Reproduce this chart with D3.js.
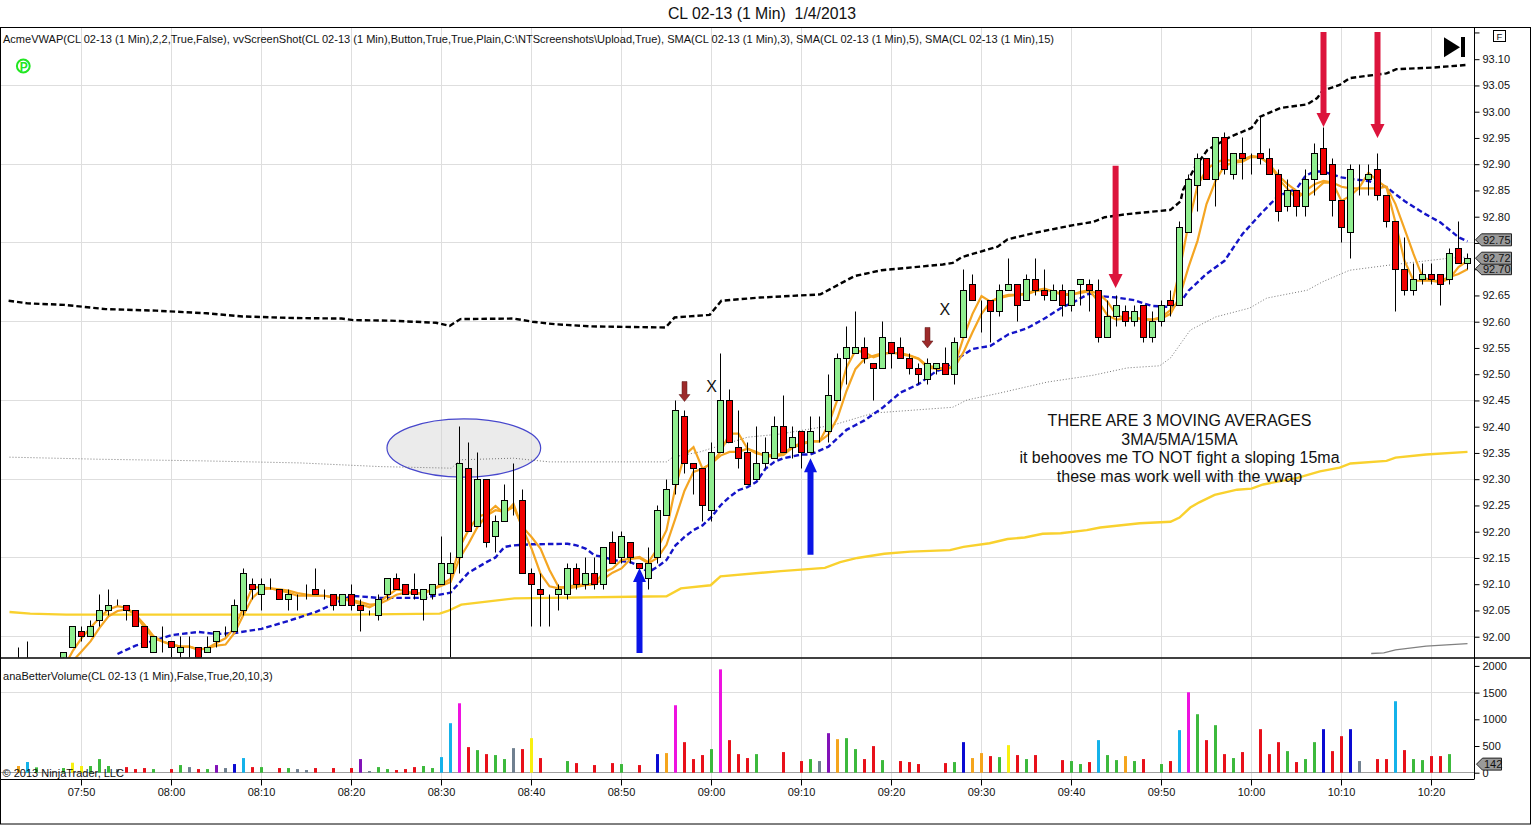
<!DOCTYPE html>
<html>
<head>
<meta charset="utf-8">
<title>CL 02-13 (1 Min) 1/4/2013</title>
<script src="https://cdn.jsdelivr.net/npm/d3@7"></script>
<style>
  html, body { margin: 0; padding: 0; background: #fff; overflow: hidden; }
  svg { display: block; font-family: "Liberation Sans", Arial, sans-serif; }
  text { fill: #111; }
</style>
</head>
<body>
<div id="chart"></div>
<script>
// minutes are counted from 07:50, one bar per minute starting at 07:43
var firstBarMinute = -7;

var barOpen = [
  91.93,91.94,91.93,91.94,91.93,91.94,91.98,92.01,92.00,92.03,
  92.05,92.06,92.06,92.05,92.02,91.97,91.99,91.99,91.97,91.98,
  91.98,91.97,91.99,92.00,92.01,92.05,92.10,92.08,92.09,92.09,
  92.07,92.07,92.08,92.09,92.08,92.08,92.06,92.08,92.06,92.05,
  92.04,92.08,92.11,92.10,92.09,92.07,92.08,92.10,92.12,92.15,
  92.32,92.21,92.30,92.19,92.22,92.27,92.26,92.12,92.09,92.08,
  92.08,92.08,92.13,92.10,92.12,92.10,92.18,92.15,92.18,92.14,
  92.11,92.15,92.23,92.29,92.42,92.33,92.32,92.24,92.35,92.45,
  92.36,92.35,92.30,92.33,92.34,92.40,92.36,92.39,92.35,92.39,
  92.39,92.45,92.53,92.54,92.55,92.52,92.51,92.56,92.55,92.53,
  92.51,92.49,92.51,92.52,92.50,92.57,92.67,92.64,92.64,92.62,
  92.66,92.67,92.64,92.68,92.66,92.64,92.66,92.63,92.67,92.67,
  92.66,92.57,92.61,92.62,92.60,92.63,92.57,92.60,92.64,92.63,
  92.77,92.86,92.91,92.87,92.95,92.88,92.92,92.92,92.92,92.91,
  92.88,92.82,92.85,92.82,92.87,92.93,92.90,92.83,92.77,92.89,
  92.87,92.89,92.84,92.79,92.70,92.66,92.68,92.69,92.69,92.68,
  92.74,92.71
];
var barHigh = [
  91.98,91.99,91.95,91.95,91.95,91.97,92.02,92.02,92.03,92.08,
  92.09,92.07,92.06,92.05,92.02,92.00,92.02,91.99,92.00,92.00,
  91.98,92.00,92.01,92.02,92.07,92.13,92.11,92.11,92.11,92.09,
  92.09,92.08,92.10,92.13,92.09,92.08,92.08,92.10,92.07,92.05,
  92.08,92.11,92.12,92.10,92.12,92.09,92.10,92.19,92.16,92.40,
  92.37,92.35,92.30,92.23,92.29,92.33,92.28,92.13,92.12,92.08,
  92.10,92.14,92.14,92.15,92.15,92.17,92.20,92.20,92.18,92.14,
  92.17,92.25,92.30,92.45,92.43,92.33,92.32,92.37,92.54,92.47,
  92.43,92.37,92.40,92.38,92.42,92.46,92.40,92.39,92.42,92.42,
  92.50,92.54,92.59,92.62,92.57,92.52,92.60,92.56,92.57,92.54,
  92.52,92.53,92.52,92.55,92.57,92.70,92.69,92.64,92.64,92.67,
  92.72,92.67,92.69,92.72,92.70,92.67,92.67,92.66,92.68,92.68,
  92.68,92.64,92.65,92.63,92.63,92.63,92.62,92.64,92.66,92.79,
  92.88,92.92,92.91,92.95,92.96,92.92,92.95,92.92,92.99,92.93,
  92.89,92.87,92.85,92.89,92.94,92.97,92.91,92.83,92.90,92.90,
  92.90,92.92,92.84,92.79,92.76,92.71,92.71,92.71,92.69,92.74,
  92.79,92.73
];
var barLow = [
  91.92,91.93,91.92,91.93,91.92,91.93,91.98,91.99,92.00,92.02,
  92.04,92.06,92.03,92.02,91.98,91.97,91.97,91.96,91.96,91.96,
  91.96,91.97,91.98,92.00,92.01,92.04,92.07,92.05,92.09,92.07,
  92.05,92.05,92.07,92.08,92.07,92.05,92.06,92.05,92.01,92.04,
  92.03,92.07,92.09,92.08,92.07,92.03,92.07,92.10,91.96,92.12,
  92.20,92.21,92.17,92.16,92.22,92.23,92.12,92.02,92.02,92.02,
  92.05,92.07,92.09,92.09,92.09,92.09,92.14,92.14,92.14,92.13,
  92.09,92.14,92.23,92.27,92.31,92.27,92.22,92.22,92.35,92.37,
  92.32,92.29,92.30,92.32,92.34,92.35,92.34,92.32,92.35,92.37,
  92.37,92.45,92.48,92.54,92.52,92.45,92.51,92.51,92.53,92.50,
  92.48,92.48,92.50,92.50,92.48,92.57,92.64,92.58,92.56,92.61,
  92.66,92.60,92.64,92.65,92.64,92.64,92.61,92.62,92.63,92.62,
  92.56,92.57,92.59,92.59,92.59,92.56,92.56,92.59,92.61,92.63,
  92.77,92.81,92.87,92.82,92.88,92.87,92.87,92.88,92.90,92.88,
  92.79,92.81,92.80,92.80,92.84,92.88,92.80,92.75,92.72,92.84,
  92.84,92.83,92.78,92.62,92.65,92.65,92.67,92.67,92.63,92.67,
  92.71,92.70
];
var barClose = [
  91.94,91.95,91.94,91.93,91.94,91.97,92.02,92.00,92.02,92.05,
  92.06,92.06,92.05,92.02,91.98,92.00,91.99,91.98,91.98,91.98,
  91.96,91.98,92.01,92.00,92.06,92.12,92.09,92.10,92.09,92.07,
  92.08,92.07,92.08,92.08,92.08,92.06,92.08,92.06,92.05,92.05,
  92.07,92.11,92.09,92.08,92.08,92.09,92.10,92.14,92.14,92.33,
  92.20,92.30,92.18,92.22,92.26,92.27,92.12,92.10,92.08,92.08,
  92.09,92.13,92.10,92.12,92.10,92.17,92.14,92.19,92.15,92.13,
  92.14,92.24,92.28,92.43,92.33,92.32,92.25,92.35,92.45,92.37,
  92.34,92.29,92.33,92.35,92.40,92.35,92.38,92.35,92.39,92.39,
  92.46,92.53,92.55,92.55,92.53,92.51,92.57,92.54,92.53,92.51,
  92.50,92.52,92.52,92.50,92.56,92.66,92.64,92.64,92.62,92.66,
  92.67,92.63,92.68,92.66,92.65,92.66,92.63,92.66,92.68,92.66,
  92.57,92.61,92.63,92.60,92.62,92.57,92.60,92.63,92.63,92.78,
  92.87,92.91,92.87,92.95,92.89,92.92,92.91,92.92,92.91,92.88,
  92.81,92.85,92.82,92.87,92.92,92.88,92.83,92.78,92.89,92.89,
  92.88,92.84,92.79,92.70,92.66,92.68,92.69,92.68,92.67,92.73,
  92.71,92.72
];

// same bars as above, null where no volume bar is drawn
var volumeValues = [
  125,200,100,null,null,87,187,125,125,255,
  125,68,105,68,87,68,null,68,143,105,
  68,68,143,87,162,274,105,105,null,87,
  87,68,50,87,null,87,null,87,255,31,
  105,68,50,68,105,125,87,292,927,1300,
  479,423,348,330,255,460,442,647,274,null,
  null,218,180,null,143,null,180,162,null,143,
  null,348,367,1263,572,255,330,442,1935,610,
  348,274,348,null,null,386,null,218,255,218,
  740,628,647,442,255,498,236,null,218,199,
  162,null,null,180,199,572,274,367,311,292,
  516,330,255,330,null,null,236,218,162,199,
  610,330,236,311,218,255,null,162,218,797,
  1506,1095,610,890,348,274,386,null,815,348,
  572,404,199,255,572,815,404,684,815,218,
  null,255,255,1338,423,255,236,311,311,348,
  null,null
];
// r down, g up, c climax up, m climax + churn, b low-volume churn, o orange, y churn, p purple, s quiet
var volumeTypes = [
  'o','c','g','','','g','y','y','g','g',
  'g','s','r','r','r','g','','r','g','s',
  'r','g','p','s','b','c','r','g','','r',
  'g','s','s','r','','r','','r','p','s',
  'g','g','r','r','r','g','g','c','c','m',
  'r','g','r','g','g','s','r','y','r','',
  '','g','r','','r','','r','g','','r',
  '','b','o','m','r','r','r','g','m','r',
  'r','r','g','','','r','','r','g','s',
  'p','o','g','g','r','r','g','','r','r',
  'r','','','r','g','b','o','o','r','g',
  'y','r','g','r','','','r','g','g','r',
  'c','g','g','o','g','r','','g','r','c',
  'm','g','r','g','r','g','r','','r','r',
  'r','g','r','g','g','b','r','r','b','s',
  '','r','r','c','r','g','g','r','r','g',
  '',''
];

// SMA(3) and SMA(5), one value per minute from 07:48
var smaFirstMinute = -2;
var sma3Values = [
  91.94,91.972,91.997,92.017,92.036,92.052,92.058,92.055,92.042,92.017,
  91.997,91.991,91.985,91.981,91.981,91.975,91.978,91.988,91.997,92.017,
  92.055,92.094,92.094,92.092,92.088,92.084,92.078,92.078,92.078,92.078,
  92.074,92.071,92.068,92.062,92.056,92.065,92.078,92.09,92.087,92.082,
  92.082,92.09,92.10,92.11,92.17,92.203,92.228,92.234,92.249,92.234,
  92.253,92.206,92.168,92.12,92.096,92.092,92.096,92.098,92.10,92.10,
  92.123,92.13,92.146,92.149,92.152,92.142,92.168,92.203,92.285,92.346,
  92.361,92.32,92.33,92.352,92.387,92.387,92.358,92.349,92.346,92.346,
  92.349,92.362,92.369,92.372,92.372,92.404,92.452,92.513,92.545,92.542,
  92.532,92.538,92.542,92.538,92.535,92.529,92.513,92.51,92.51,92.516,
  92.57,92.615,92.649,92.638,92.647,92.651,92.651,92.654,92.66,92.663,
  92.657,92.651,92.651,92.657,92.66,92.638,92.612,92.604,92.606,92.608,
  92.604,92.604,92.609,92.622,92.697,92.786,92.859,92.89,92.903,92.909,
  92.906,92.908,92.916,92.913,92.90,92.872,92.853,92.834,92.849,92.862,
  92.868,92.865,92.83,92.84,92.856,92.884,92.868,92.856,92.789,92.716,
  92.678,92.678,92.678,92.675,92.682,92.704,92.716
];
var sma5Values = [
  91.93,91.953,91.972,91.991,92.017,92.039,92.049,92.052,92.042,92.023,
  92.001,91.991,91.985,91.981,91.981,91.976,91.978,91.983,91.985,92.007,
  92.042,92.074,92.09,92.092,92.09,92.088,92.083,92.08,92.078,92.078,
  92.076,92.073,92.07,92.066,92.061,92.062,92.07,92.08,92.084,92.082,
  92.084,92.09,92.097,92.104,92.149,92.177,92.209,92.231,92.241,92.238,
  92.247,92.209,92.19,92.168,92.127,92.095,92.092,92.095,92.098,92.10,
  92.11,92.122,92.13,92.148,92.15,92.14,92.15,92.175,92.226,92.278,
  92.314,92.32,92.33,92.345,92.352,92.352,92.358,92.352,92.343,92.344,
  92.346,92.36,92.366,92.372,92.372,92.385,92.417,92.468,92.51,92.529,
  92.535,92.54,92.54,92.54,92.536,92.53,92.516,92.513,92.51,92.513,
  92.542,92.58,92.615,92.638,92.645,92.649,92.651,92.652,92.658,92.661,
  92.658,92.653,92.652,92.655,92.658,92.654,92.638,92.612,92.607,92.607,
  92.605,92.604,92.606,92.615,92.647,92.704,92.754,92.824,92.868,92.897,
  92.903,92.905,92.914,92.913,92.90,92.878,92.862,92.849,92.837,92.849,
  92.865,92.865,92.857,92.854,92.854,92.854,92.854,92.857,92.824,92.777,
  92.729,92.685,92.678,92.678,92.685,92.691,92.70
];

// SMA(15), dashed blue
var sma15Minutes = [4,6,8,10,13,15,17,20,23,26,28,30,33,36,38,41,43,45,46,47,48,50,54,55,56,57,58,59,61,62,63,64,65,66,67,68,69,70,71,72,73,74,75,76,77,78,80,81,83,85,87,89,91,93,95,96,97,99,101,103,105,107,109,110,112,113,115,117,118,119,121,122,123,124,125,127,129,131,133,135,136,137,138,139,140,141,143,144,145,147,149,151,153,154];
var sma15Values = [91.967,91.983,91.992,92.003,92.009,92.005,92.007,92.015,92.03,92.047,92.062,92.078,92.074,92.074,92.074,92.084,92.122,92.142,92.151,92.171,92.174,92.176,92.177,92.174,92.168,92.155,92.152,92.146,92.142,92.134,92.123,92.133,92.146,92.174,92.19,92.203,92.212,92.228,92.25,92.266,92.279,92.285,92.295,92.32,92.333,92.34,92.347,92.347,92.362,92.394,92.412,92.436,92.465,92.481,92.506,92.512,92.526,92.548,92.554,92.576,92.587,92.606,92.628,92.635,92.654,92.649,92.646,92.641,92.635,92.63,92.628,92.634,92.659,92.675,92.691,92.716,92.767,92.805,92.84,92.853,92.878,92.886,92.886,92.88,92.875,92.872,92.868,92.863,92.856,92.83,92.808,92.789,92.761,92.753];

// AcmeVWAP upper band, dashed black
var vwapUpperMinutes = [-8.1,-6,-1.9,2.7,8.3,13.9,17.9,23.6,28.9,30.2,34.3,39.4,40.9,42.1,48,50.1,52.7,56.7,64.9,65.9,69.8,71.1,75.4,82.1,83.5,85.9,88.9,95.7,96.8,97.8,101.8,102.9,106.1,110.2,112.4,113.7,116.2,121,122.1,122.4,123.7,125.1,127.6,130,130.9,133.2,136.2,137.3,137.9,139.8,140.9,145,146.1,150.2,153.8];
var vwapUpperValues = [92.64,92.635,92.632,92.624,92.621,92.616,92.61,92.607,92.606,92.603,92.602,92.598,92.592,92.605,92.606,92.60,92.595,92.591,92.589,92.608,92.613,92.64,92.646,92.652,92.665,92.687,92.698,92.709,92.712,92.723,92.743,92.757,92.77,92.784,92.79,92.799,92.805,92.813,92.829,92.851,92.894,92.927,92.952,92.969,92.99,93.007,93.014,93.026,93.04,93.051,93.064,93.073,93.081,93.084,93.089];

// AcmeVWAP centre line, thin dotted grey
var vwapMinutes = [-8,2,13.2,24.3,33.2,41.1,42.1,48,52,65,65.7,68.7,74,77.6,83.5,88,96.8,98.4,102,107.3,112.4,116.2,119.8,121,123.2,126,129.8,131.7,136.2,137.9,140.9,145.4,152,153.9];
var vwapValues = [92.342,92.338,92.335,92.331,92.324,92.321,92.337,92.34,92.333,92.333,92.342,92.352,92.38,92.386,92.403,92.426,92.437,92.451,92.464,92.485,92.498,92.512,92.516,92.531,92.584,92.609,92.626,92.645,92.66,92.676,92.698,92.708,92.721,92.723];

// AcmeVWAP lower band, yellow
var vwapLowerMinutes = [-8,-5.7,-1.7,29.8,39.8,40.7,42.2,48.1,65,66.6,69.9,71,77.7,82.6,84.3,86.2,89.2,92.1,96.5,98,100.9,102.9,104.8,106.8,108.8,111.7,113.2,117.6,121,122,123.2,124.2,125.9,128.4,130,131.3,135.2,137.6,139.8,141,145,146,149.4,154];
var vwapLowerValues = [92.047,92.044,92.042,92.042,92.044,92.049,92.061,92.073,92.077,92.092,92.098,92.115,92.125,92.131,92.142,92.15,92.158,92.162,92.165,92.171,92.178,92.186,92.189,92.196,92.197,92.203,92.208,92.216,92.219,92.227,92.246,92.256,92.27,92.28,92.282,92.29,92.303,92.315,92.322,92.33,92.335,92.341,92.347,92.352];

// second lower band, only its tail is on screen
var vwapLower2Minutes = [143.3,144.7,146,149.4,154];
var vwapLower2Values = [91.968,91.969,91.975,91.982,91.987];

var timeTickMinutes = [0,10,20,30,40,50,60,70,80,90,100,110,120,130,140,150];
var timeTickLabels = ['07:50','08:00','08:10','08:20','08:30','08:40','08:50','09:00','09:10','09:20','09:30','09:40','09:50','10:00','10:10','10:20'];
var priceTicks = [92.00,92.05,92.10,92.15,92.20,92.25,92.30,92.35,92.40,92.45,92.50,92.55,92.60,92.65,92.70,92.75,92.80,92.85,92.90,92.95,93.00,93.05,93.10];
var priceGrid = [92.00,92.15,92.30,92.45,92.60,92.75,92.90,93.05];
var volumeTicks = [0,500,1000,1500,2000];
var volumeGrid = [0,1500];

var priceBadges = [92.70, 92.72, 92.755];
var priceBadgeLabels = ['92.70','92.72','92.75'];
var volumeBadge = 142;

// hand-drawn annotations, in minutes and prices
var arrowMinutes = [114.9,138,144,62,81,67,94];
var arrowTail = [92.897,93.152,93.152,91.969,92.156,92.486,92.589];
var arrowTip = [92.664,92.971,92.95,92.131,92.34,92.448,92.55];
var arrowKinds = ['red','red','red','blue','blue','brown','brown'];
var markMinutes = [70,95.94];
var markPrices = [92.477,92.624];
var noteMinute = 122;
var notePrices = [92.412,92.376,92.342,92.305];
var noteLines = ['THERE ARE 3 MOVING AVERAGES','3MA/5MA/15MA','it behooves me TO NOT fight a sloping 15ma','these mas work well with the vwap'];

var titleText = 'CL 02-13 (1 Min)  1/4/2013';
var priceLegend = 'AcmeVWAP(CL 02-13 (1 Min),2,2,True,False), vvScreenShot(CL 02-13 (1 Min),Button,True,True,Plain,C:\\NTScreenshots\\Upload,True), SMA(CL 02-13 (1 Min),3), SMA(CL 02-13 (1 Min),5), SMA(CL 02-13 (1 Min),15)';
var volumeLegend = 'anaBetterVolume(CL 02-13 (1 Min),False,True,20,10,3)';
var copyrightText = '\u00A9 2013 NinjaTrader, LLC';

var volumeColors = { r: '#e8101a', g: '#3cb93c', c: '#14b2ea', m: '#ee12e0', b: '#0a0ad2', o: '#f5a51c', y: '#f8f010', p: '#8212b8', s: '#708090' };
var arrowStyles = {
  red: { color: '#dc143c', shaft: 6, headW: 14, headH: 14 },
  blue: { color: '#0a14e6', shaft: 6, headW: 13, headH: 14 },
  brown: { color: '#9c2a2a', shaft: 5, headW: 11, headH: 7 }
};

var W = 1531, H = 825;
var panelRight = 1474, panelTop = 27.5, priceBottom = 657.5, volumeTop = 658.5, volumeBottom = 779.5;

var svg = d3.select('#chart').append('svg').attr('width', W).attr('height', H);

var x = d3.scaleLinear().domain([0, 150]).range([81.5, 1431.5]);
var y = d3.scaleLinear().domain([92, 93.1]).range([636.7, 59.2]);
var yVol = d3.scaleLinear().domain([0, 2000]).range([772.7, 665.9]);

function crisp(v) { return Math.round(v - 0.5) + 0.5; }

svg.append('defs').append('clipPath').attr('id', 'price-clip')
  .append('rect').attr('x', 1).attr('y', panelTop).attr('width', panelRight - 1).attr('height', priceBottom - panelTop);

// grid
var grid = svg.append('g').attr('stroke', '#dedede').attr('stroke-width', 1);
grid.selectAll('.v1').data(timeTickMinutes).join('line')
  .attr('x1', function (d) { return crisp(x(d)); }).attr('x2', function (d) { return crisp(x(d)); })
  .attr('y1', panelTop).attr('y2', priceBottom);
grid.selectAll('.v2').data(timeTickMinutes).join('line')
  .attr('class', 'v2')
  .attr('x1', function (d) { return crisp(x(d)); }).attr('x2', function (d) { return crisp(x(d)); })
  .attr('y1', volumeTop).attr('y2', volumeBottom);
grid.selectAll('.h1').data(priceGrid).join('line')
  .attr('class', 'h1')
  .attr('x1', 1).attr('x2', panelRight)
  .attr('y1', function (d) { return crisp(y(d)); }).attr('y2', function (d) { return crisp(y(d)); });
grid.selectAll('.h2').data(volumeGrid).join('line')
  .attr('class', 'h2')
  .attr('x1', 1).attr('x2', panelRight)
  .attr('stroke', function (d) { return d === 0 ? '#a0a0a0' : '#dedede'; })
  .attr('y1', function (d) { return crisp(yVol(d)); }).attr('y2', function (d) { return crisp(yVol(d)); });

var plot = svg.append('g').attr('clip-path', 'url(#price-clip)');

// the grey ellipse sits under the bars
var ellipseLeft = 33.94, ellipseRight = 51.02, ellipseHigh = 92.415, ellipseLow = 92.304;
plot.append('ellipse')
  .attr('cx', (x(ellipseLeft) + x(ellipseRight)) / 2)
  .attr('cy', (y(ellipseHigh) + y(ellipseLow)) / 2)
  .attr('rx', (x(ellipseRight) - x(ellipseLeft)) / 2)
  .attr('ry', (y(ellipseLow) - y(ellipseHigh)) / 2)
  .attr('fill', '#d2d2d2').attr('fill-opacity', 0.45)
  .attr('stroke', '#4646cc').attr('stroke-width', 1.2);

function drawLine(minutes, values, color, width, dash) {
  var line = d3.line()
    .x(function (d, i) { return x(minutes[i]); })
    .y(function (d) { return y(d); });
  plot.append('path').datum(values)
    .attr('d', line)
    .attr('fill', 'none')
    .attr('stroke', color)
    .attr('stroke-width', width)
    .attr('stroke-dasharray', dash || null);
}

var smaMinutes = sma3Values.map(function (d, i) { return smaFirstMinute + i; });
drawLine(vwapMinutes, vwapValues, '#777', 1, '1,2');
drawLine(vwapLower2Minutes, vwapLower2Values, '#808080', 1.3);
drawLine(vwapLowerMinutes, vwapLowerValues, '#f9d12e', 2.4);
drawLine(vwapUpperMinutes, vwapUpperValues, '#000', 2.4, '5.5,3');
drawLine(sma15Minutes, sma15Values, '#1414c8', 2.4, '5.5,3');
drawLine(smaMinutes, sma5Values, '#f4a522', 2.2);
drawLine(smaMinutes, sma3Values, '#f4a522', 2.2);

// candles
var bars = barOpen.map(function (o, i) {
  return { minute: firstBarMinute + i, open: o, high: barHigh[i], low: barLow[i], close: barClose[i] };
});
var candle = plot.selectAll('.candle').data(bars).join('g').attr('class', 'candle');
candle.append('line')
  .attr('x1', function (d) { return crisp(x(d.minute)); })
  .attr('x2', function (d) { return crisp(x(d.minute)); })
  .attr('y1', function (d) { return crisp(y(d.high)); })
  .attr('y2', function (d) { return crisp(y(d.low)); })
  .attr('stroke', '#000').attr('stroke-width', 1);
candle.append('rect')
  .attr('x', function (d) { return crisp(x(d.minute)) - 3; })
  .attr('width', 6)
  .attr('y', function (d) { return crisp(y(Math.max(d.open, d.close))); })
  .attr('height', function (d) { return crisp(y(Math.min(d.open, d.close))) - crisp(y(Math.max(d.open, d.close))); })
  .attr('fill', function (d) { return d.close >= d.open ? '#90ee90' : '#f00000'; })
  .attr('stroke', '#000').attr('stroke-width', 1);

// annotations on top of the bars
function arrowPath(d) {
  var s = arrowStyles[d.kind];
  var cx = x(d.minute), tail = y(d.tail), tip = y(d.tip);
  var dir = tip > tail ? 1 : -1;
  var neck = tip - dir * s.headH;
  return 'M' + (cx - s.shaft / 2) + ',' + tail + 'L' + (cx + s.shaft / 2) + ',' + tail +
    'L' + (cx + s.shaft / 2) + ',' + neck + 'L' + (cx + s.headW / 2) + ',' + neck +
    'L' + cx + ',' + tip + 'L' + (cx - s.headW / 2) + ',' + neck +
    'L' + (cx - s.shaft / 2) + ',' + neck + 'Z';
}
var arrows = arrowMinutes.map(function (m, i) {
  return { minute: m, tail: arrowTail[i], tip: arrowTip[i], kind: arrowKinds[i] };
});
svg.append('g').selectAll('path').data(arrows).join('path')
  .attr('d', arrowPath)
  .attr('fill', function (d) { return arrowStyles[d.kind].color; })
  .attr('stroke', function (d) { return d.kind === 'brown' ? '#5a1a1a' : 'none'; })
  .attr('stroke-width', 0.5);

svg.append('g').selectAll('text').data(markMinutes).join('text')
  .attr('x', function (d) { return x(d); })
  .attr('y', function (d, i) { return y(markPrices[i]) + 6; })
  .attr('text-anchor', 'middle').attr('font-size', 16)
  .text('X');

svg.append('g').selectAll('text').data(noteLines).join('text')
  .attr('x', x(noteMinute))
  .attr('y', function (d, i) { return y(notePrices[i]) + 5.5; })
  .attr('text-anchor', 'middle').attr('font-size', 16)
  .text(function (d) { return d; });

// volume bars
var volumeData = volumeValues.map(function (v, i) {
  return { minute: firstBarMinute + i, value: v, type: volumeTypes[i] };
}).filter(function (d) { return d.value !== null; });
svg.append('g').selectAll('rect').data(volumeData).join('rect')
  .attr('x', function (d) { return crisp(x(d.minute)) - 1.5; })
  .attr('width', 3)
  .attr('y', function (d) { return yVol(d.value); })
  .attr('height', function (d) { return yVol(0) - yVol(d.value); })
  .attr('fill', function (d) { return volumeColors[d.type]; });

// axes; tick labels that a value badge covers are left out
var priceAxis = d3.axisRight(y).tickValues(priceTicks).tickSize(5).tickPadding(3)
  .tickFormat(function (d) { return priceBadgeLabels.indexOf(d.toFixed(2)) >= 0 ? '' : d.toFixed(2); });
svg.append('g').attr('class', 'axis').attr('transform', 'translate(' + (panelRight + 0.5) + ',0)').call(priceAxis);
var volAxis = d3.axisRight(yVol).tickValues(volumeTicks).tickSize(5).tickPadding(3).tickFormat(d3.format('d'));
svg.append('g').attr('class', 'axis').attr('transform', 'translate(' + (panelRight + 0.5) + ',0)').call(volAxis);
var timeAxis = d3.axisBottom(x).tickValues(timeTickMinutes).tickSize(6).tickPadding(3)
  .tickFormat(function (d, i) { return timeTickLabels[i]; });
svg.append('g').attr('class', 'axis time').attr('transform', 'translate(-0.5,' + volumeBottom + ')').call(timeAxis);
svg.selectAll('.axis .domain').remove();
svg.selectAll('.axis text').attr('font-size', 11).attr('font-family', '"Liberation Sans", Arial, sans-serif').attr('fill', '#222');
svg.selectAll('.axis line').attr('stroke', '#000');

// frame
var frame = svg.append('g').attr('stroke', '#000').attr('stroke-width', 1).attr('fill', 'none');
frame.append('rect').attr('x', 0.5).attr('y', panelTop).attr('width', W - 1).attr('height', 824 - panelTop);
frame.append('line').attr('x1', 0).attr('x2', W).attr('y1', 658).attr('y2', 658).attr('stroke-width', 1.4);
frame.append('line').attr('x1', panelRight + 0.5).attr('x2', panelRight + 0.5).attr('y1', panelTop).attr('y2', volumeBottom);
frame.append('line').attr('x1', 0).attr('x2', panelRight).attr('y1', volumeBottom).attr('y2', volumeBottom);
// tick above the 93.10 label, the F button hides its text
svg.append('line').attr('x1', panelRight + 0.5).attr('x2', panelRight + 5.5).attr('y1', y(93.15)).attr('y2', y(93.15)).attr('stroke', '#000');

// value badges on the right axis
function badgePath(cy, left, right) {
  return 'M' + left + ',' + cy + 'L' + (left + 6) + ',' + (cy - 6) + 'L' + right + ',' + (cy - 6) +
    'L' + right + ',' + (cy + 6) + 'L' + (left + 6) + ',' + (cy + 6) + 'Z';
}
var badges = svg.append('g');
priceBadges.forEach(function (p, i) {
  badges.append('path').attr('d', badgePath(y(p) - 0.5, 1475.5, 1511.5)).attr('fill', '#9a9a9a').attr('stroke', '#222');
  badges.append('text').attr('x', 1483).attr('y', y(p) + 3.5).attr('font-size', 11).text(priceBadgeLabels[i]);
});
badges.append('path').attr('d', badgePath(yVol(volumeBadge) - 1, 1476.5, 1501.5)).attr('fill', '#9a9a9a').attr('stroke', '#222');
badges.append('text').attr('x', 1484).attr('y', yVol(volumeBadge) + 3).attr('font-size', 11).text(volumeBadge);

// titles and legends
svg.append('text').attr('x', 762).attr('y', 18.5).attr('text-anchor', 'middle').attr('font-size', 15.8)
  .attr('xml:space', 'preserve').style('white-space', 'pre').text(titleText);
svg.append('text').attr('x', 3).attr('y', 43).attr('font-size', 11.04).attr('xml:space', 'preserve').text(priceLegend);
svg.append('text').attr('x', 3).attr('y', 680).attr('font-size', 11.04).text(volumeLegend);
svg.append('text').attr('x', 2.5).attr('y', 777).attr('font-size', 11).text(copyrightText);

// connection dot
svg.append('circle').attr('cx', 23.3).attr('cy', 66).attr('r', 6.4).attr('fill', '#fff').attr('stroke', '#22e622').attr('stroke-width', 2);
svg.append('text').attr('x', 23.8).attr('y', 70.5).attr('text-anchor', 'middle').attr('font-size', 12).attr('font-weight', 'bold')
  .style('fill', '#22e622').text('P');

// screenshot button glyph and F box
svg.append('path').attr('d', 'M1444,37.3L1460,47.3L1444,57.3Z').attr('fill', '#000');
svg.append('rect').attr('x', 1461).attr('y', 37).attr('width', 4).attr('height', 20).attr('fill', '#000');
svg.append('rect').attr('x', 1493.5).attr('y', 30.5).attr('width', 12).attr('height', 11).attr('fill', '#fff').attr('stroke', '#000');
svg.append('text').attr('x', 1499.5).attr('y', 40).attr('text-anchor', 'middle').attr('font-size', 9.5).text('F');
</script>
</body>
</html>
